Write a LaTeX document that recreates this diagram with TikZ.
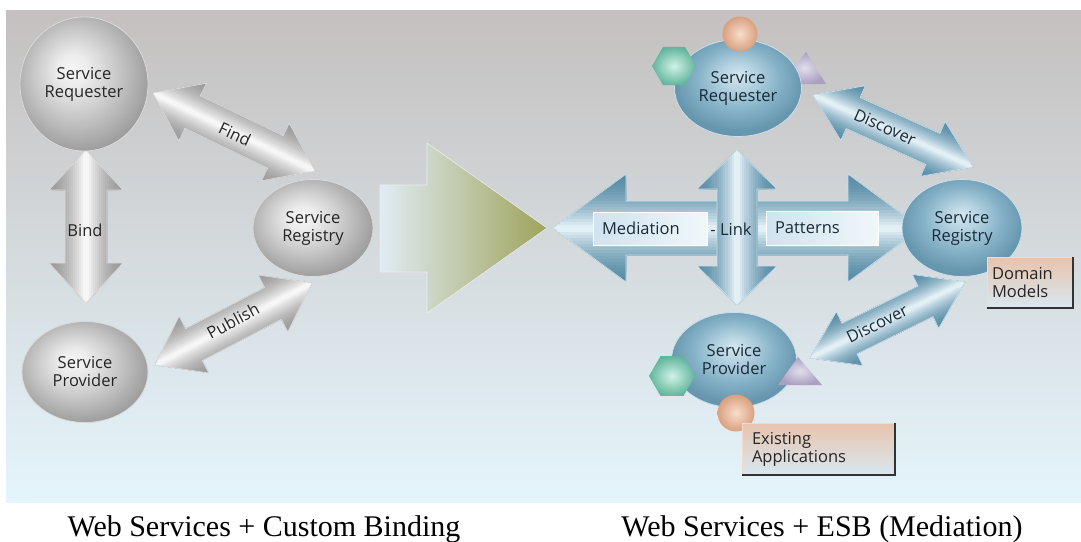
\documentclass[tikz,border=0pt]{standalone}
\usepackage{fontspec}
\setmainfont{Open Sans}
\newfontfamily\capfont{Liberation Serif}
\usetikzlibrary{calc,shapes.geometric}

% palette
\definecolor{panelTop}{HTML}{C4C0BF}
\definecolor{panelMid}{HTML}{D3D3D4}
\definecolor{panelBot}{HTML}{E5F5FC}
\definecolor{greyEdge}{HTML}{9C9C9C}
\definecolor{greyMid}{HTML}{F6F6F6}
\definecolor{greyRim}{HTML}{DADADA}
\definecolor{blueEdge}{HTML}{5A8EA8}
\definecolor{blueMid}{HTML}{E2EFF5}
\definecolor{blueRim}{HTML}{C9DFEA}
\definecolor{inkGrey}{HTML}{262626}
\definecolor{inkBlue}{HTML}{1A2A38}
\definecolor{bigL}{HTML}{E0ECF4}
\definecolor{bigM}{HTML}{CAD0B2}
\definecolor{bigR}{HTML}{9EA35A}
\definecolor{gb0}{HTML}{F6F6F6}
\definecolor{gb1}{HTML}{ECECEC}
\definecolor{gb2}{HTML}{C9C9C9}
\definecolor{gb3}{HTML}{A4A4A4}
\definecolor{gb4}{HTML}{8E8E8E}
\definecolor{bb0}{HTML}{D4E6EF}
\definecolor{bb1}{HTML}{B4D2E0}
\definecolor{bb2}{HTML}{87B3C8}
\definecolor{bb3}{HTML}{6898B0}
\definecolor{bb4}{HTML}{5A8CA6}
\definecolor{noteTop}{HTML}{E8C3AD}
\definecolor{noteBot}{HTML}{D8E8F0}
\definecolor{medL}{HTML}{CFE3EE}
\definecolor{medR}{HTML}{F0F7FA}
\definecolor{hexIn}{HTML}{CFF2E6}
\definecolor{hexOut}{HTML}{62B59D}
\definecolor{orbIn}{HTML}{F8DDCB}
\definecolor{orbOut}{HTML}{D9A07F}
\definecolor{triIn}{HTML}{E2DEEC}
\definecolor{triOut}{HTML}{AAA0C2}

% sphere shadings
\pgfdeclareradialshading{greyball}{\pgfpoint{-5bp}{6bp}}{%
  color(0bp)=(gb0); color(6bp)=(gb1); color(16bp)=(gb2);
  color(26bp)=(gb3); color(32bp)=(gb4); color(50bp)=(gb4)}
\pgfdeclareradialshading{blueball}{\pgfpoint{0bp}{7bp}}{%
  color(0bp)=(bb0); color(7bp)=(bb1); color(16bp)=(bb2);
  color(25bp)=(bb3); color(35bp)=(bb4); color(50bp)=(bb4)}

% outline of a fat double-headed arrow between two points
% #1 path options, #2/#3 tips, #4 shaft half width, #5 head half width, #6 head length
\newcommand\dblarrowdo[6]{%
  \path[#1] (#2)
    -- ($(#2)!#6pt!(#3)!#5pt!90:(#3)$)
    -- ($(#2)!#6pt!(#3)!#4pt!90:(#3)$)
    -- ($(#3)!#6pt!(#2)!#4pt!-90:(#2)$)
    -- ($(#3)!#6pt!(#2)!#5pt!-90:(#2)$)
    -- (#3)
    -- ($(#3)!#6pt!(#2)!#5pt!90:(#2)$)
    -- ($(#3)!#6pt!(#2)!#4pt!90:(#2)$)
    -- ($(#2)!#6pt!(#3)!#4pt!-90:(#3)$)
    -- ($(#2)!#6pt!(#3)!#5pt!-90:(#3)$)
    -- cycle;}

% fat arrow filled with bands: dark along the rims, light along the axis
% #1/#2 tips, #3 shaft, #4 head, #5 head length, #6 edge, #7 centre, #8 rim
\newcommand\fatarrow[8]{%
  \begin{scope}
    \dblarrowdo{clip}{#1}{#2}{#3}{#4}{#5}
    \foreach \k in {0,...,17}{%
      \pgfmathsetmacro\fatLW{2*#4*(1-\k/18)+1}%
      \pgfmathtruncatemacro\fatPC{100*(\k/17)^1.7}%
      \draw[line width=\fatLW pt, color=#7!\fatPC!#6] (#1) -- (#2);
    }
  \end{scope}
  \dblarrowdo{draw=#8, line width=0.7pt, line join=round}{#1}{#2}{#3}{#4}{#5}}

\newcommand\dgmfont{\fontsize{16.5}{18}\selectfont}

\begin{document}
\begin{tikzpicture}[x=1pt, y=-1pt,
  lbl/.style={font=\dgmfont, inner sep=1pt, align=center},
  greysphere/.style={ellipse, shading=greyball, draw=greyRim, line width=0.8pt,
    inner sep=0pt, align=center, font=\dgmfont, text=inkGrey},
  bluesphere/.style={ellipse, shading=blueball, draw=blueRim, line width=0.8pt,
    inner sep=0pt, align=center, font=\dgmfont, text=inkBlue},
  medbox/.style={rectangle, left color=medL, right color=medR, draw=white,
    line width=0.6pt, inner ysep=0pt, inner xsep=9pt, align=left,
    font=\dgmfont, text=inkBlue},
  notebox/.style={rectangle, top color=noteTop, bottom color=noteBot,
    draw=noteTop!60!white, line width=0.5pt, inner ysep=0pt, inner xsep=5pt,
    align=left, font=\dgmfont, text=inkGrey},
  noteshadow/.style={draw=black!80, line width=1.6pt},
  hexdeco/.style={regular polygon, regular polygon sides=6, inner sep=0pt,
    inner color=hexIn, outer color=hexOut},
  orbdeco/.style={circle, inner sep=0pt, inner color=orbIn, outer color=orbOut},
  tridecor/.style={inner color=triIn, outer color=triOut},
  caption/.style={anchor=base, inner sep=0pt, font=\capfont\fontsize{30}{36}\selectfont}
]
\useasboundingbox (0,0) rectangle (1081,541);
\fill[white] (0,0) rectangle (1081,541);
\shade[top color=panelTop, middle color=panelMid, bottom color=panelBot]
  (6,10) rectangle (1081,502);

% ---------- classic web services: grey triangle ----------
\coordinate (bind-a) at (86,150);
\coordinate (bind-b) at (86,303);
\coordinate (find-a) at (153,93);
\coordinate (find-b) at (315,171);
\coordinate (pub-a)  at (155,365);
\coordinate (pub-b)  at (312,283);

\fatarrow{bind-a}{bind-b}{21}{37}{40}{greyEdge}{greyMid}{greyRim}
\fatarrow{find-a}{find-b}{18}{32}{44}{greyEdge}{greyMid}{greyRim}
\fatarrow{pub-a}{pub-b}{18}{32}{44}{greyEdge}{greyMid}{greyRim}

\node[greysphere, minimum width=128pt, minimum height=134pt] (lreq)  at (84,84)   {Service\\Requester};
\node[greysphere, minimum width=126pt, minimum height=101pt] (lprov) at (85,372)  {Service\\Provider};
\node[greysphere, minimum width=120pt, minimum height=97pt]  (lreg)  at (313,228) {Service\\Registry};

\node[lbl, text=inkGrey] (bind-l) at (85,230) {Bind};
\node[lbl, text=inkGrey, rotate=-25] (find-l) at (235,134) {Find};
\node[lbl, text=inkGrey, rotate=28] (pub-l) at (233,321) {Publish};

% ---------- transition arrow ----------
\shade[left color=bigL, middle color=bigM, right color=bigR,
       draw=white!85!gray, line width=0.6pt, line join=round]
  (380,185) -- (427,185) -- (427,143) -- (547,228) -- (427,313)
  -- (427,272) -- (380,272) -- cycle;

% ---------- ESB mediation: blue cross ----------
\coordinate (med-a) at (553,228);
\coordinate (med-b) at (921,228);
\coordinate (link-a) at (737,150);
\coordinate (link-b) at (737,305);
\fatarrow{med-a}{med-b}{27}{54}{73}{blueEdge}{blueMid}{blueRim}
\fatarrow{link-a}{link-b}{20}{40}{39}{blueEdge}{blueMid}{blueRim}

\node[medbox, minimum width=114pt, minimum height=33pt, text width=96pt] (med) at (650,228.5) {Mediation};
\node[medbox, minimum width=112pt, minimum height=34pt, text width=94pt] (pat) at (822,228) {Patterns};
\node[lbl, text=inkBlue] (link) at (731,229) {- Link};

% discovery arrows
\coordinate (disc-up-a) at (813,95);
\coordinate (disc-up-b) at (973,167);
\coordinate (disc-dn-a) at (810,358);
\coordinate (disc-dn-b) at (965,282);
\fatarrow{disc-up-a}{disc-up-b}{17}{30}{44}{blueEdge}{blueMid}{blueRim}
\fatarrow{disc-dn-a}{disc-dn-b}{17}{30}{44}{blueEdge}{blueMid}{blueRim}
\node[lbl, text=inkBlue, rotate=-24] (disc-up-l) at (885,127) {Discover};
\node[lbl, text=inkBlue, rotate=26] (disc-dn-l) at (877,324) {Discover};

% requester with its service parts
\shade[tridecor] (783,84) -- (806,52) -- (826,84) -- cycle;
\node[bluesphere, minimum width=127pt, minimum height=97pt] (rreq) at (738,88) {Service\\Requester};
\node[hexdeco, minimum size=44pt] (rreq-hex) at (674,66) {};
\node[orbdeco, minimum size=35pt] (rreq-orb) at (740,34) {};

% registry
\node[bluesphere, minimum width=120pt, minimum height=97pt] (rreg) at (962,228) {Service\\Registry};

% provider with its service parts
\node[bluesphere, minimum width=125pt, minimum height=95pt] (rprov) at (734,360) {Service\\Provider};
\shade[tridecor] (778,385) -- (798,357) -- (822,385) -- cycle;
\node[hexdeco, minimum size=46pt] (rprov-hex) at (672,376) {};
\node[orbdeco, minimum size=37pt] (rprov-orb) at (736,413) {};

% notes
\node[notebox, minimum width=86pt, minimum height=51pt, text width=76pt] (dom) at (1030,282.5) {Domain\\Models};
\draw[noteshadow] (dom.north east) -- (dom.south east) -- (dom.south west);
\node[notebox, minimum width=153pt, minimum height=52pt, text width=133pt, inner xsep=10pt] (exist) at (818.5,449) {Existing\\Applications};
\draw[noteshadow] (exist.north east) -- (exist.south east) -- (exist.south west);

% ---------- captions ----------
\node[caption] (cap-left)  at (264,536) {Web Services + Custom Binding};
\node[caption] (cap-right) at (822,536) {Web Services + ESB (Mediation)};
\end{tikzpicture}
\end{document}
